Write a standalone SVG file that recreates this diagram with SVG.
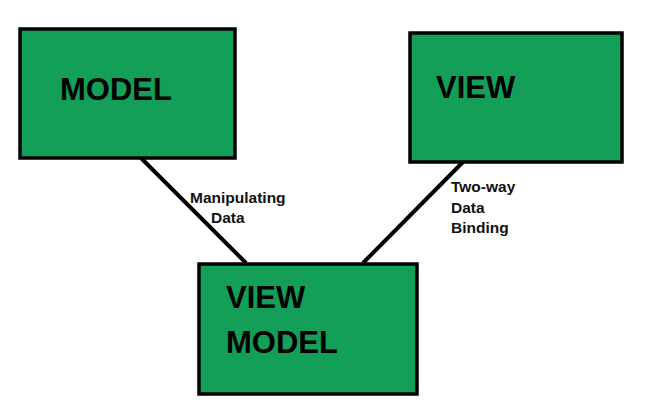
<svg xmlns="http://www.w3.org/2000/svg" width="646" height="420" viewBox="0 0 646 420">
<style>
.box{fill:#139f58;stroke:#000;stroke-width:3.5}
.big{font-family:"Liberation Sans",Arial,sans-serif;font-weight:bold;font-size:31px;fill:#000}
.lbl{font-family:"Liberation Sans",Arial,sans-serif;font-weight:bold;font-size:15.5px;fill:#111}
.conn{stroke:#000;stroke-width:4;fill:none}
</style>
<rect width="646" height="420" fill="#fff"/>
<g id="connectors">
<line class="conn" x1="141" y1="158" x2="246" y2="263"/>
<line class="conn" x1="463" y1="162" x2="363" y2="263"/>
<text class="lbl" x="190" y="203">Manipulating</text>
<text class="lbl" x="211" y="223">Data</text>
<text class="lbl" x="451" y="192">Two-way</text>
<text class="lbl" x="451" y="213">Data</text>
<text class="lbl" x="451" y="233">Binding</text>
</g>
<g id="model">
<rect class="box" x="20" y="29" width="215" height="129"/>
<text class="big" x="60" y="100">MODEL</text>
</g>
<g id="view">
<rect class="box" x="410" y="33" width="212" height="129"/>
<text class="big" x="436" y="98">VIEW</text>
</g>
<g id="viewmodel">
<rect class="box" x="199" y="264" width="218" height="130"/>
<text class="big" x="226" y="308">VIEW</text>
<text class="big" x="226" y="353">MODEL</text>
</g>
</svg>
